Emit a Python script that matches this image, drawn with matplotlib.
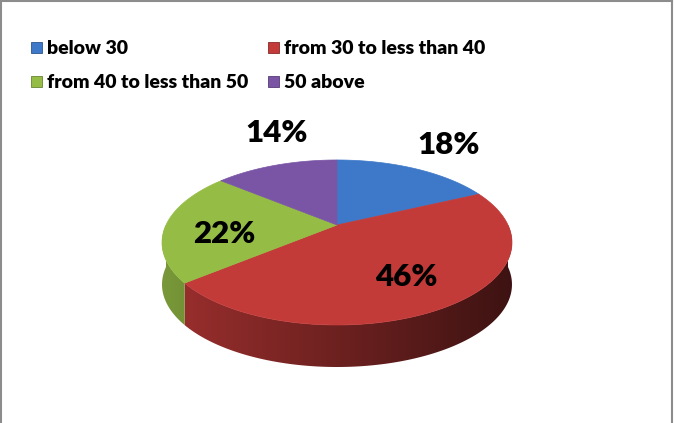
import numpy as np
import matplotlib
matplotlib.use("Agg")
import matplotlib.pyplot as plt
from matplotlib.patches import Polygon, Rectangle
from matplotlib.colors import to_rgb

categories = ["below 30", "from 30 to less than 40", "from 40 to less than 50", "50 above"]
values = [18, 46, 22, 14]
labels = ["18%", "46%", "22%", "14%"]
colors = ["#3D79C8", "#C23B39", "#95BD46", "#7A55A6"]

W, H = 674, 423
fig = plt.figure(figsize=(W / 100, H / 100), dpi=100)
ax = fig.add_axes([0, 0, 1, 1])
ax.set_xlim(0, W)
ax.set_ylim(H, 0)
ax.axis("off")

FONT = "Lato"

# pseudo-perspective projection of a tilted disc
cx, cy = 337, 225
kx, ky, c = 171, 78.8, 0.212
depth = 42


def proj(t, drop=0.0):
    u, v = np.cos(t), np.sin(t)
    d = 1 + c * v
    return cx + kx * u / d, cy - ky * v / d + drop


total = float(sum(values))
start = np.pi / 2
bounds = []
a = start
for v in values:
    a2 = a - 2 * np.pi * v / total
    bounds.append((a, a2))
    a = a2

# side walls (front half), gradient clipped to wall polygon
xs = np.linspace(cx - kx * 1.1, cx + kx * 1.1, 400)
shade = 0.56 - 0.24 * np.clip((xs - cx) / kx, -1, 1)
for (a1, a2), col in zip(bounds, colors):
    lo, hi = min(a1, a2), max(a1, a2)
    # restrict to front half (sin < 0): angles in [-pi, 0] modulo 2pi
    segs = []
    for off in (-2 * np.pi, 0, 2 * np.pi):
        s0, s1 = max(lo, -np.pi + off), min(hi, 0 + off)
        if s1 > s0:
            segs.append((s0, s1))
    base = np.array(to_rgb(col))
    for s0, s1 in segs:
        ts = np.linspace(s0, s1, 200)
        top = [proj(t) for t in ts]
        bot = [proj(t, depth) for t in ts[::-1]]
        poly = Polygon(top + bot, closed=True, facecolor="none", edgecolor="none")
        ax.add_patch(poly)
        img = np.clip(base[None, None, :] * shade[None, :, None], 0, 1)
        img = np.repeat(img, 2, axis=0)
        im = ax.imshow(img, extent=(xs[0], xs[-1], cy + 200, cy - 100),
                       aspect="auto", interpolation="bilinear", zorder=1)
        im.set_clip_path(poly)

# top faces
for (a1, a2), col in zip(bounds, colors):
    ts = np.linspace(a1, a2, 200)
    pts = [proj(t) for t in ts]
    pts = [(cx, cy)] + pts
    ax.add_patch(Polygon(pts, closed=True, facecolor=col, edgecolor=col, lw=0.5, zorder=2))

# data labels
label_pos = [(449, 145), (406, 277), (224, 234), (277, 133)]
for (x, y), lab in zip(label_pos, labels):
    ax.text(x, y, lab, fontsize=22.5, fontweight="heavy", family=FONT,
            ha="center", va="center", color="black", zorder=3)

# legend
leg_pos = [(31, 48), (268, 48), (31, 82), (268, 82)]
for (x, y), col, name in zip(leg_pos, colors, categories):
    ax.add_patch(Rectangle((x, y - 5.5), 11, 11, facecolor=col,
                           edgecolor=np.clip(np.array(to_rgb(col)) * 0.7, 0, 1), lw=0.6, zorder=3))
    ax.text(x + 16, y, name, fontsize=14, fontweight="heavy", family=FONT,
            ha="left", va="center", color="black", zorder=3)

# frame (left, top, right)
ax.plot([1, 1], [H, 1], color="#8C8C8C", lw=1.5, zorder=4)
ax.plot([1, W - 2], [1, 1], color="#8C8C8C", lw=1.5, zorder=4)
ax.plot([W - 2, W - 2], [1, H], color="#8C8C8C", lw=1.5, zorder=4)

ax.set_xlim(0, W)
ax.set_ylim(H, 0)
fig.savefig("out.png", dpi=100)
